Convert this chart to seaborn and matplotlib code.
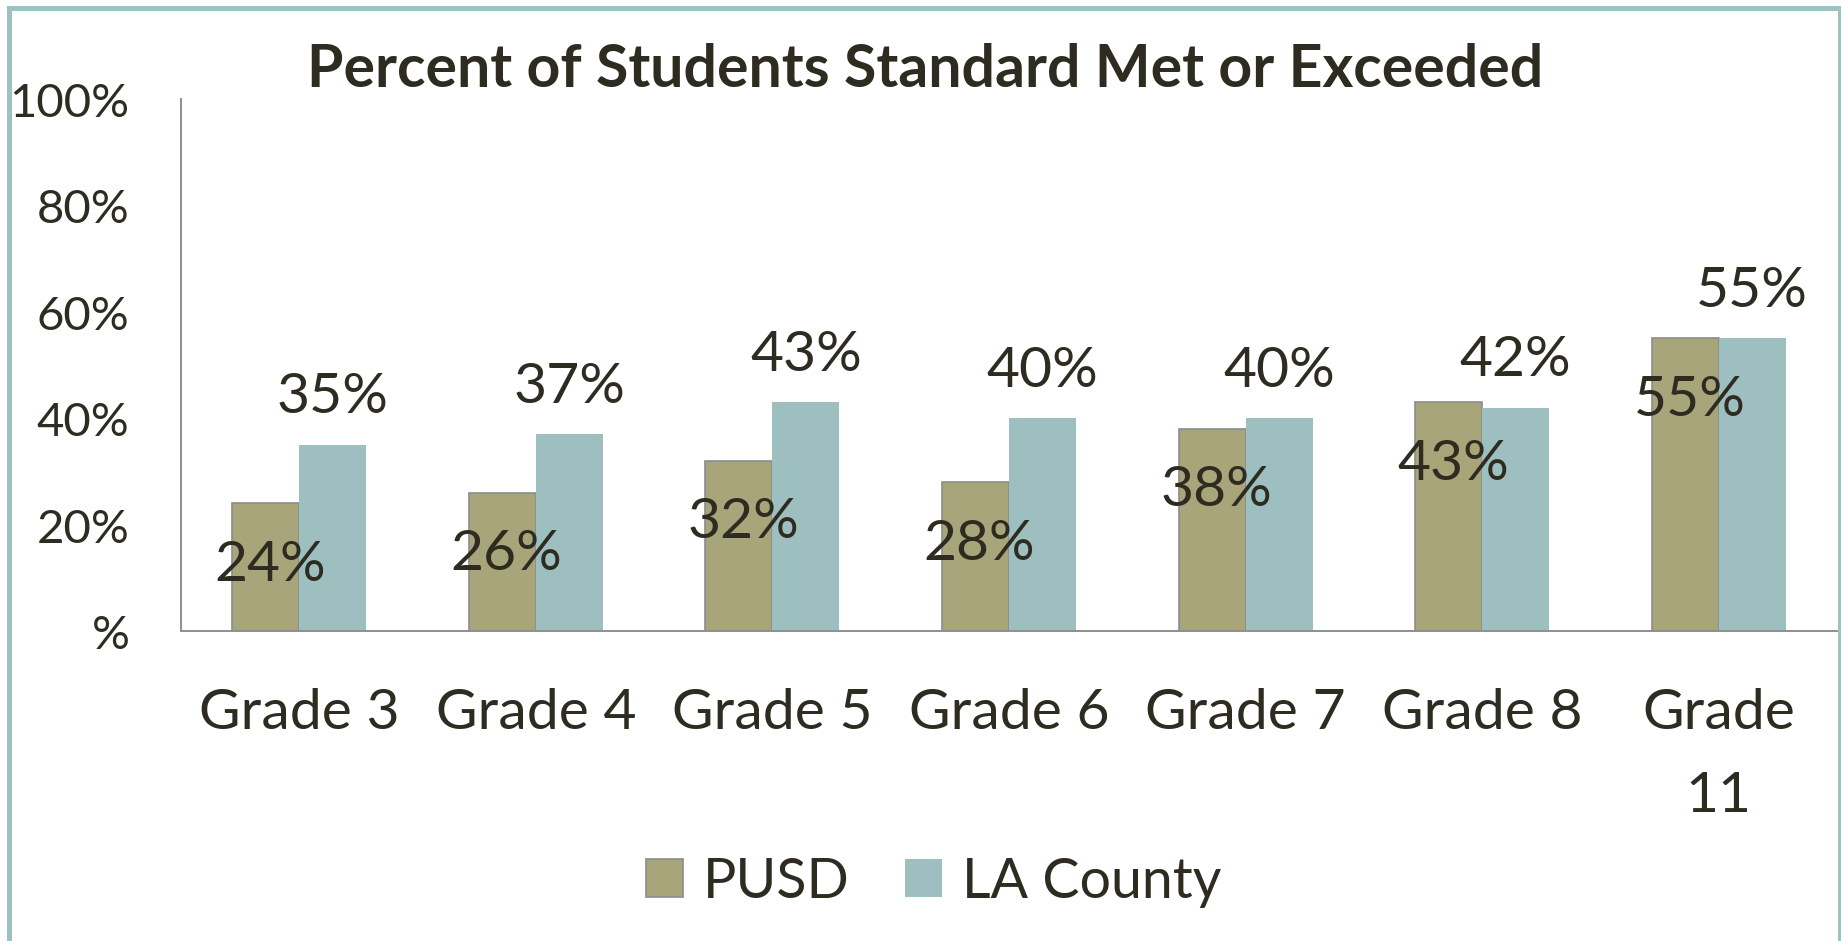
import pandas as pd
import seaborn as sns
import matplotlib.pyplot as plt
from matplotlib.patches import Rectangle

# data
grades = ['Grade 3', 'Grade 4', 'Grade 5', 'Grade 6', 'Grade 7', 'Grade 8', 'Grade\n11']
pusd = [24, 26, 32, 28, 38, 43, 55]
la_county = [35, 37, 43, 40, 40, 42, 55]
series = ['PUSD', 'LA County']
ytick_vals = [0, 20, 40, 60, 80, 100]
ytick_labels = ['%', '20%', '40%', '60%', '80%', '100%']

W, H = 1841, 942
txt = '#2e2b20'
colors = {'PUSD': '#a9a57b', 'LA County': '#9dbfbf'}

df = pd.DataFrame({
    'grade': grades * 2,
    'series': [series[0]] * len(grades) + [series[1]] * len(grades),
    'value': pusd + la_county,
})

sns.set_style('white')
plt.rcParams['font.family'] = ['Lato', 'DejaVu Sans']

fig = plt.figure(figsize=(18.41, 9.4199), dpi=100)
ax = fig.add_axes([181 / W, 1 - 632 / H, (1837 - 181) / W, (632 - 100) / H])

sns.barplot(data=df, x='grade', y='value', hue='series', palette=colors,
            width=0.567, gap=0, saturation=1, ax=ax, legend=False)

# edges: olive bars get a grey outline, teal bars none
for bar in ax.containers[0]:
    bar.set_edgecolor('#8c8c8c')
    bar.set_linewidth(1.2)
for bar in ax.containers[1]:
    bar.set_linewidth(0)

# value labels
for bar, v in zip(ax.containers[0], pusd):
    ax.annotate(f'{v}%', (bar.get_x() + bar.get_width() / 2, v),
                xytext=(3, -44), textcoords='offset points',
                ha='center', va='center', fontsize=41, color=txt)
for bar, v in zip(ax.containers[1], la_county):
    ax.annotate(f'{v}%', (bar.get_x() + bar.get_width() / 2, v),
                xytext=(0, 34.5), textcoords='offset points',
                ha='center', va='center', fontsize=41, color=txt,
                annotation_clip=False)

ax.set_xlim(-0.5, 6.5)
ax.set_ylim(0, 100)
ax.set_yticks(ytick_vals)
ax.set_yticklabels(ytick_labels, fontsize=34, color=txt)
ax.set_xticks(range(len(grades)))
ax.set_xticklabels(grades, fontsize=41, color=txt, linespacing=1.8)
ax.tick_params(axis='y', length=0, pad=37)
ax.tick_params(axis='x', length=0, pad=40)
ax.set_xlabel('')
ax.set_ylabel('')

sns.despine(ax=ax)
for s in ['left', 'bottom']:
    ax.spines[s].set_color('#8f8f8f')
    ax.spines[s].set_linewidth(1.4)

fig.text(925 / W, 1 - 70 / H, 'Percent of Students Standard Met or Exceeded',
         ha='center', va='center', fontsize=42.5, fontweight='bold', color=txt)

fig.legend(handles=[ax.containers[0][0], ax.containers[1][0]], labels=series,
           loc='center', bbox_to_anchor=(934 / W, 1 - 883 / H), ncol=2,
           frameon=False, fontsize=40, labelcolor=txt,
           handlelength=0.65, handleheight=0.65, handletextpad=0.37,
           columnspacing=1.0)

# teal frame around the chart (bottom edge falls off the canvas)
fig.patches.append(Rectangle((8.5 / W, -0.1), (1839.5 - 8.5) / W, 1.1 - 8.5 / H,
                             transform=fig.transFigure, fill=False,
                             edgecolor='#9dc2c1', linewidth=3.6))

fig.savefig('out.png', dpi=100)
